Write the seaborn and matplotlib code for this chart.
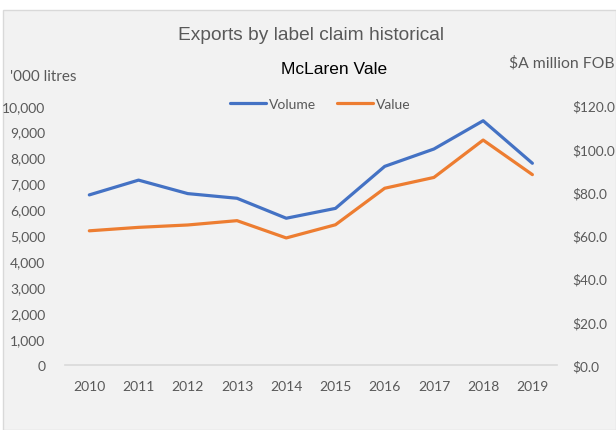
import numpy as np
import pandas as pd
import seaborn as sns
import matplotlib.pyplot as plt
from matplotlib.patches import Rectangle
from matplotlib.ticker import FuncFormatter, FixedLocator

years = [2010, 2011, 2012, 2013, 2014, 2015, 2016, 2017, 2018, 2019]
volume = [6560, 7130, 6610, 6430, 5660, 6040, 7660, 8330, 9420, 7780]
value = [62.1, 63.7, 64.8, 66.8, 58.8, 64.9, 81.8, 86.8, 104.1, 88.1]

df = pd.DataFrame({"Year": years, "Volume": volume, "Value": value})

sns.set_style("white")
plt.rcParams["font.family"] = ["Lato", "DejaVu Sans"]

grey = "#595959"
blue = "#4472C4"
orange = "#ED7D31"

fig = plt.figure(figsize=(6.16, 4.31), dpi=100)
fig.patches.append(Rectangle((3 / 616, 0), 613 / 616, 1 - 11 / 431, transform=fig.transFigure,
                             facecolor="#f2f2f2", edgecolor="#d9d9d9", lw=1, zorder=-10))

ax = fig.add_axes([64.7 / 616, 1 - 366 / 431, (557 - 64.7) / 616, (366 - 106.7) / 431])
ax.set_facecolor("none")
ax2 = ax.twinx()

sns.lineplot(data=df, x="Year", y="Volume", ax=ax, color=blue, lw=2.3, label="Volume", legend=False)
sns.lineplot(data=df, x="Year", y="Value", ax=ax2, color=orange, lw=2.3, label="Value", legend=False)

ax.set_xlim(years[0] - 0.5, years[-1] + 0.5)
ax.set_ylim(0, 10000)
ax2.set_ylim(0, 120)
ax.set_yticks(np.arange(0, 10001, 1000))
ax2.set_yticks(np.arange(0, 121, 20))
ax.yaxis.set_major_formatter(FuncFormatter(lambda v, p: f"{int(v):,}"))
ax2.yaxis.set_major_formatter(FuncFormatter(lambda v, p: f"${v:.1f}"))

ax.set_xticks(years)
ax.set_xticklabels([str(y) for y in years])
ax.xaxis.set_minor_locator(FixedLocator(np.arange(years[0] - 0.5, years[-1] + 1, 1)))
ax.tick_params(axis="x", which="major", length=0, pad=11, labelsize=10, labelcolor=grey)
ax.tick_params(axis="x", which="minor", length=5, width=1, color="#d9d9d9")
ax.tick_params(axis="y", length=0, pad=14, labelsize=10, labelcolor=grey)
ax2.tick_params(axis="y", length=0, pad=11, labelsize=9.8, labelcolor=grey)

for a in (ax, ax2):
    for s in a.spines.values():
        s.set_visible(False)
    a.set_xlabel("")
    a.set_ylabel("")
ax.spines["bottom"].set_visible(True)
ax.spines["bottom"].set_color("#d9d9d9")
ax.spines["bottom"].set_linewidth(1.2)

fig.text(311 / 616, 1 - 35 / 431, "Exports by label claim historical", ha="center", va="center",
         fontsize=13.8, color=grey, family=["Liberation Sans", "DejaVu Sans"])
fig.text(334 / 616, 1 - 70 / 431, "McLaren Vale", ha="center", va="center",
         fontsize=12.5, color="black", family=["Liberation Sans", "DejaVu Sans"])
fig.text(10 / 616, 1 - 77 / 431, "'000 litres", ha="left", va="center", fontsize=11, color=grey)
fig.text(509 / 616, 1 - 63 / 431, "$A million FOB", ha="left", va="center", fontsize=11.3, color=grey)

h1, l1 = ax.get_legend_handles_labels()
h2, l2 = ax2.get_legend_handles_labels()
fig.legend(h1 + h2, l1 + l2, loc="center", bbox_to_anchor=(320 / 616, 1 - 105 / 431), ncol=2,
           frameon=False, fontsize=10, labelcolor=grey, handlelength=2.6, handletextpad=0.2,
           columnspacing=1.5)

fig.savefig("out.png", dpi=100, facecolor="white")
